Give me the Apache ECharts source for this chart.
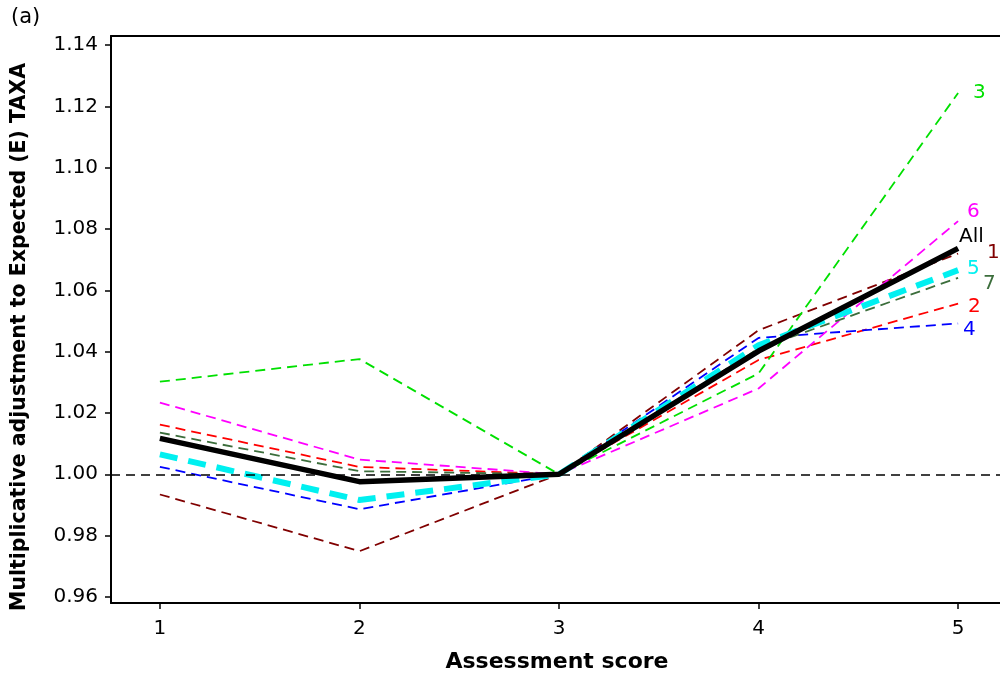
<!DOCTYPE html>
<html>
<head>
<meta charset="utf-8">
<script src="https://cdn.jsdelivr.net/npm/echarts@6/dist/echarts.min.js"></script>
<style>
  html, body { margin: 0; padding: 0; background: #fff; }
  #chart { width: 1000px; height: 679px; }
</style>
</head>
<body>
<div id="chart"></div>
<script>
// Assessment scores on the x axis
const scores = [1, 2, 3, 4, 5];
const xTicks = [1, 2, 3, 4, 5];
const yTicks = [0.96, 0.98, 1.00, 1.02, 1.04, 1.06, 1.08, 1.10, 1.12, 1.14];

// Multiplicative adjustment to expected taxa, per group and overall
const group1 = [0.9934, 0.9749, 1.000, 1.047, 1.072];
const group2 = [1.0162, 1.0024, 1.000, 1.0373, 1.0557];
const group3 = [1.0302, 1.0376, 1.000, 1.0329, 1.1244];
const group4 = [1.0024, 0.9886, 1.000, 1.0445, 1.0492];
const group5 = [1.0065, 0.9916, 1.000, 1.0421, 1.0666];
const group6 = [1.0234, 1.0048, 1.000, 1.028, 1.0826];
const group7 = [1.0136, 1.001, 1.000, 1.041, 1.0641];
const groupAll = [1.0117, 0.9976, 1.000, 1.0402, 1.0737];

const referenceLevel = 1.0;

const FONT = 'DejaVu Sans';

function pairs(values) {
  return scores.map((s, i) => [s, values[i]]);
}

function thinSeries(name, values, color, offset) {
  return {
    name: name,
    type: 'line',
    data: pairs(values),
    symbol: 'none',
    lineStyle: { color: color, width: 1.8, type: [10, 6] },
    endLabel: {
      show: true,
      formatter: name,
      color: color,
      fontFamily: FONT,
      fontSize: 20,
      distance: 0,
      align: 'left',
      verticalAlign: 'middle',
      offset: offset
    },
    z: 3
  };
}

const series = [
  thinSeries('1', group1, '#800000', [29, -1]),
  thinSeries('2', group2, '#ff0000', [10, 3]),
  thinSeries('3', group3, '#00e000', [15, 0]),
  thinSeries('4', group4, '#0000ff', [5, 6]),
  thinSeries('6', group6, '#ff00ff', [9, -9]),
  thinSeries('7', group7, '#3c6e3c', [25, 6]),
  {
    name: '5',
    type: 'line',
    data: pairs(group5),
    symbol: 'none',
    lineStyle: { color: '#00f0f0', width: 6, type: [18, 11] },
    endLabel: {
      show: true, formatter: '5', color: '#00f0f0', fontFamily: FONT, fontSize: 20,
      distance: 0, align: 'left', verticalAlign: 'middle', offset: [9, -1]
    },
    z: 4
  },
  {
    name: 'All',
    type: 'line',
    data: pairs(groupAll),
    symbol: 'none',
    lineStyle: { color: '#000', width: 5.5, type: 'solid' },
    endLabel: {
      show: true, formatter: 'All', color: '#000', fontFamily: FONT, fontSize: 20,
      distance: 0, align: 'left', verticalAlign: 'middle', offset: [1, -12]
    },
    markLine: {
      silent: true,
      symbol: 'none',
      label: { show: false },
      lineStyle: { color: '#000', width: 1.5, type: [9, 6] },
      data: [{ yAxis: referenceLevel }]
    },
    z: 5
  }
];

const chart = echarts.init(document.getElementById('chart'), null, { renderer: 'canvas' });

chart.setOption({
  animation: false,
  backgroundColor: '#fff',
  grid: { left: 111, right: 0, top: 36, bottom: 76, containLabel: false },
  xAxis: [
    {
      type: 'value',
      min: 0.755,
      max: 5.21,
      axisLine: { show: true, onZero: false, lineStyle: { color: '#000', width: 2 } },
      axisTick: { show: true, customValues: xTicks, length: 6, lineStyle: { color: '#000', width: 1.5 } },
      axisLabel: { customValues: xTicks, margin: 16, color: '#000', fontFamily: FONT, fontSize: 20 },
      splitLine: { show: false }
    },
    {
      type: 'value',
      position: 'top',
      min: 0.755,
      max: 5.21,
      axisLine: { show: true, onZero: false, lineStyle: { color: '#000', width: 2 } },
      axisTick: { show: false },
      axisLabel: { show: false },
      splitLine: { show: false }
    }
  ],
  yAxis: {
    type: 'value',
    min: 0.958,
    max: 1.143,
    axisLine: { show: true, onZero: false, lineStyle: { color: '#000', width: 2 } },
    axisTick: { show: true, customValues: yTicks, length: 6, lineStyle: { color: '#000', width: 1.5 } },
    axisLabel: {
      customValues: yTicks, margin: 13, color: '#000', fontFamily: FONT, fontSize: 20,
      formatter: v => v.toFixed(2)
    },
    splitLine: { show: false }
  },
  graphic: [
    {
      type: 'text', left: 11, top: 7,
      style: { text: '(a)', fill: '#000', font: '21px "DejaVu Sans"' }
    },
    {
      type: 'text', x: 557, y: 662,
      style: {
        text: 'Assessment score', fill: '#000', font: 'bold 22px "DejaVu Sans"',
        align: 'center', verticalAlign: 'middle'
      }
    },
    {
      type: 'text', x: 20, y: 337, rotation: Math.PI / 2,
      style: {
        text: 'Multiplicative adjustment to Expected (E) TAXA', fill: '#000',
        font: 'bold 20.5px "DejaVu Sans"', align: 'center', verticalAlign: 'middle'
      }
    }
  ],
  series: series
});
</script>
</body>
</html>
